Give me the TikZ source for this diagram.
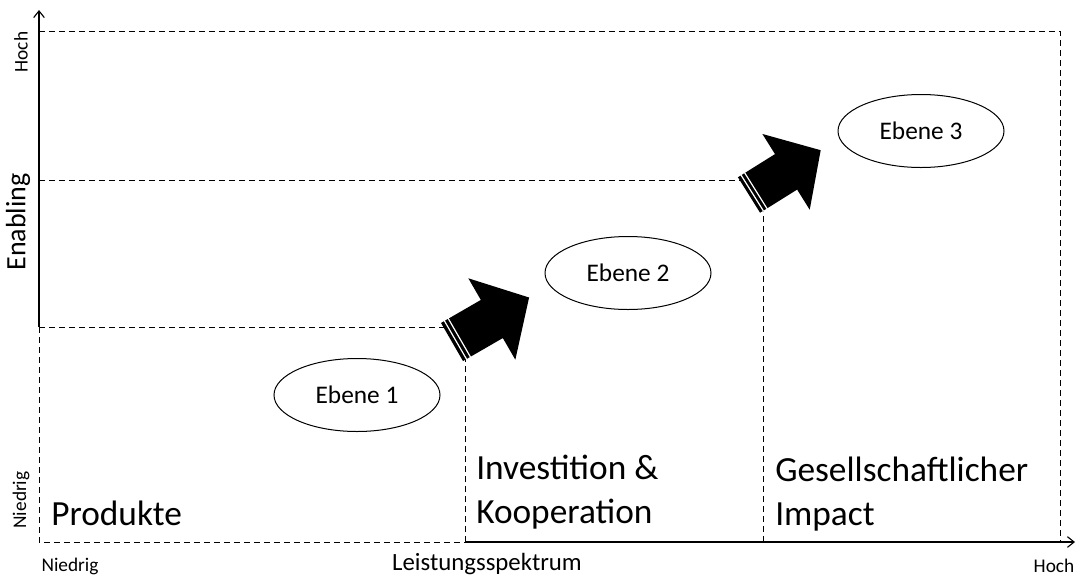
\documentclass[tikz,border=0pt]{standalone}
\usepackage{fontspec}
\setmainfont{Carlito}
\usetikzlibrary{shapes.geometric,arrows.meta}
\begin{document}
\begin{tikzpicture}[x=0.75pt,y=-0.75pt,
  dline/.style={draw=black,line width=0.75pt,dash pattern=on 4.5pt off 3pt},
  axisline/.style={draw=black,line width=0.85pt,-{Straight Barb[length=5pt,width=8pt]}},
  lvl/.style={ellipse,draw=black,line width=0.75pt,minimum width=124.5pt,minimum height=54.75pt,inner sep=0pt,font=\fontsize{19}{23}\selectfont},
  small/.style={font=\fontsize{14.5}{17}\selectfont,inner sep=0pt},
  big/.style={font=\fontsize{26.5}{33}\selectfont,align=left,anchor=west,inner sep=0pt},
  bigarrow/.pic={
    \fill[black] (0,-22) -- (46,-22) -- (46,-47) -- (89,0) -- (46,47) -- (46,22) -- (0,22) -- cycle;
    \draw[white,line width=0.9pt] (4,-23) -- (4,23);
    \draw[white,line width=0.9pt] (8.5,-23) -- (8.5,23);
  }
]
\useasboundingbox (0,0) rectangle (1076,576);
% corner coordinates
\coordinate (o) at (39,542);
\coordinate (a1) at (39,327);
\coordinate (ytop) at (39,10);
\coordinate (b1) at (465,542);
\coordinate (xend) at (1075,542);
\coordinate (t1) at (446,327);
\coordinate (u1) at (465,358);
\coordinate (a2) at (39,180);
\coordinate (t2) at (740,180);
\coordinate (b2) at (763,542);
\coordinate (u2) at (763,210);
\coordinate (a3) at (39,31);
\coordinate (c3) at (1060,31);
\coordinate (b3) at (1060,542);
% dashed frame lines
\draw[dline] (a1) -- (o) -- (b1);
\draw[dline] (a1) -- (t1);
\draw[dline] (b1) -- (u1);
\draw[dline] (a2) -- (t2);
\draw[dline] (b2) -- (u2);
\draw[dline] (a3) -- (c3) -- (b3);
% axes
\draw[axisline] (a1) -- (ytop);
\draw[axisline] (b1) -- (xend);
% arrows
\pic[rotate=30] at (452,342) {bigarrow};
\pic[rotate=32,scale=0.95] at (749,195) {bigarrow};
% ellipses
\node[lvl] (e1) at (357,395) {Ebene 1};
\node[lvl] (e2) at (628,273) {Ebene 2};
\node[lvl] (e3) at (921,131) {Ebene 3};
% labels
\node[small,rotate=90] (hochy) at (21,52) {Hoch};
\node[small,rotate=90] (niedy) at (21,500) {Niedrig};
\node[font=\fontsize{21}{25}\selectfont,rotate=90,inner sep=0pt] (enab) at (18,222) {Enabling};
\node[small] (niedx) at (70,566) {Niedrig};
\node[small] (hochx) at (1054,566) {Hoch};
\node[font=\fontsize{18.6}{22}\selectfont,inner sep=0pt] (leist) at (487,564) {Leistungsspektrum};
\node[big] (prod) at (51,513) {Produkte};
\node[big] (inv) at (476,492) {Investition \&\\Kooperation};
\node[big] (ges) at (775,494) {Gesellschaftlicher\\Impact};
\end{tikzpicture}
\end{document}
